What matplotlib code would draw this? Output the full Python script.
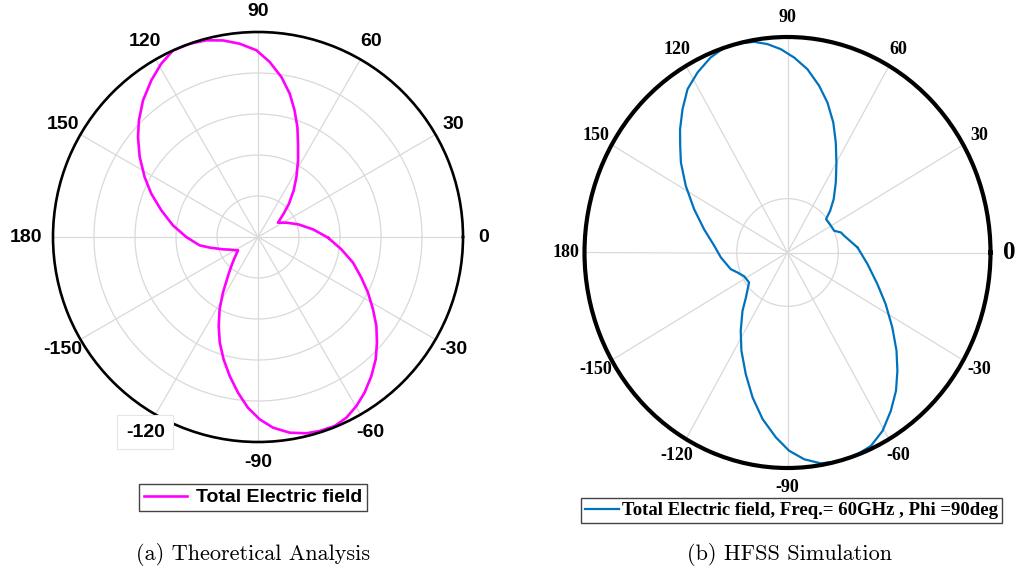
import numpy as np
import matplotlib
matplotlib.use('Agg')
import matplotlib.pyplot as plt

# angle tick labels (deg, text)
tick_deg = [0, 30, 60, 90, 120, 150, 180, 210, 240, 270, 300, 330]
tick_txt = ['0', '30', '60', '90', '120', '150', '180', '-150', '-120', '-90', '-60', '-30']

# (a) theoretical pattern, normalised magnitude
theo_deg = [359.5, 7.9, 17.6, 26.8, 35.6, 42.3, 47.1, 52.6, 57.4, 62.4, 66.8, 70.3, 73.9,
            77.5, 81.7, 86.2, 90.5, 95.4, 100.1, 104.7, 109.4, 114.5, 119.2, 124.2, 130.1,
            135.6, 140.2, 145.9, 152.1, 157.9, 164.6, 172.2, 180, 188.1, 192.4, 199.4, 204.1,
            213.7, 221.5, 227.4, 232.4, 237.8, 242, 246.2, 250.1, 254.3, 258.5, 262.7, 266.6,
            270.5, 274.5, 279.2, 283.8, 287.6, 292.1, 296.1, 300.2, 304.4, 309.2, 313.9, 318.4,
            323.1, 327.8, 333.2, 338.5, 344.9, 351.6]
theo_r = [0.341, 0.271, 0.205, 0.155, 0.120, 0.169, 0.222, 0.287, 0.348, 0.422, 0.496, 0.570,
          0.643, 0.716, 0.789, 0.856, 0.911, 0.947, 0.974, 0.992, 1.0, 1.0, 0.968, 0.925,
          0.871, 0.813, 0.762, 0.697, 0.626, 0.562, 0.489, 0.419, 0.350, 0.288, 0.241, 0.181,
          0.151, 0.117, 0.152, 0.192, 0.240, 0.321, 0.399, 0.475, 0.548, 0.620, 0.692, 0.766,
          0.834, 0.889, 0.933, 0.967, 0.986, 0.993, 0.995, 0.981, 0.954, 0.920, 0.875, 0.828,
          0.776, 0.722, 0.663, 0.601, 0.542, 0.480, 0.411]

# (b) HFSS pattern
hfss_deg = [3.8, 15.5, 19.5, 23.7, 30.2, 39.2, 42.6, 47.4, 53.8, 60, 65, 69.5, 74.2, 78.6,
            83.4, 87.9, 92, 95.8, 99.5, 104.2, 108.2, 112.7, 117.9, 123, 127.9, 132.8, 136.9,
            141.5, 148.3, 156.4, 165.3, 175.1, 184, 195.5, 200.7, 207.5, 216.3, 225.6, 230.7,
            237.6, 243.5, 250, 255.7, 261, 266.2, 270.5, 274.9, 279.5, 284.1, 289.5, 294.6,
            299.5, 304.7, 309.8, 314.6, 319.7, 326, 333.6, 341.6, 352.2]
hfss_r = [0.346, 0.290, 0.279, 0.251, 0.247, 0.245, 0.285, 0.336, 0.403, 0.482, 0.563, 0.644,
          0.723, 0.789, 0.856, 0.905, 0.944, 0.972, 0.991, 1.0, 1.0, 0.981, 0.946, 0.904,
          0.842, 0.779, 0.724, 0.671, 0.589, 0.502, 0.425, 0.362, 0.329, 0.290, 0.263, 0.240,
          0.235, 0.293, 0.350, 0.430, 0.509, 0.601, 0.695, 0.783, 0.860, 0.920, 0.963, 0.992,
          1.0, 1.0, 0.987, 0.951, 0.894, 0.835, 0.771, 0.704, 0.623, 0.540, 0.467, 0.398]

W, H = 1016, 570
fig = plt.figure(figsize=(W / 100, H / 100), dpi=100)
grid_c = '#d9d9d9'


def closed(deg, r):
    t = np.radians(list(deg) + [deg[0]])
    return t, list(r) + [r[0]]


# ---- (a) ----
ax1 = fig.add_axes([53 / W, 1 - 442 / H, 410 / W, 410 / H], projection='polar')
ax1.set_aspect('auto')
ax1.set_ylim(0, 1)
ax1.set_xticks(np.radians(tick_deg))
ax1.set_xticklabels([])
ax1.set_yticks([0.2, 0.4, 0.6, 0.8])
ax1.set_yticklabels([])
ax1.grid(True, color=grid_c, lw=0.9)
ax1.spines['polar'].set_linewidth(1.9)
t, r = closed(theo_deg, theo_r)
ax1.plot(t, r, color='#ff00ff', lw=1.9, label='Total Electric field')
for a, s in zip(tick_deg, tick_txt):
    rr = 1.13 if s == '180' else 1.10
    box = None
    if s == '-120':
        box = dict(facecolor='white', edgecolor='#e6e6e6', lw=0.8, pad=6)
    ax1.text(np.radians(a), rr, s, ha='center', va='center', fontsize=14,
             fontweight='bold', family='Liberation Sans', bbox=box, zorder=5,
             clip_on=False)
leg1 = ax1.legend(loc='center', bbox_to_anchor=(253 / W, 1 - 497.5 / H),
                  bbox_transform=fig.transFigure, fancybox=False, framealpha=1,
                  handlelength=2.2, handletextpad=0.45, borderpad=0.25,
                  prop=dict(family='Liberation Sans', weight='bold', size=14))
leg1.get_frame().set_edgecolor('#444444')
leg1.get_frame().set_linewidth(1.0)

# ---- (b) ----
ax2 = fig.add_axes([584.5 / W, 1 - 468 / H, 406 / W, 431 / H], projection='polar')
ax2.set_aspect('auto')
ax2.set_ylim(0, 1)
ax2.set_xticks(np.radians(tick_deg))
ax2.set_xticklabels([])
ax2.set_yticks([0.25])
ax2.set_yticklabels([])
ax2.grid(True, color=grid_c, lw=0.9)
ax2.spines['polar'].set_linewidth(3.0)
t, r = closed(hfss_deg, hfss_r)
ax2.plot(t, r, color='#0072bd', lw=1.6,
         label='Total Electric field, Freq.= 60GHz , Phi =90deg')
for a, s in zip(tick_deg, tick_txt):
    ax2.text(np.radians(a), 1.09, s, ha='center', va='center',
             fontsize=18 if s == '0' else 13, fontweight='bold',
             family='Liberation Serif', zorder=5, clip_on=False)
leg2 = ax2.legend(loc='center', bbox_to_anchor=(791.5 / W, 1 - 510.5 / H),
                  bbox_transform=fig.transFigure, fancybox=False, framealpha=1,
                  handlelength=1.8, handletextpad=0.2, borderpad=0.2,
                  borderaxespad=0,
                  prop=dict(family='Liberation Serif', weight='bold', size=13.5))
leg2.get_frame().set_edgecolor('#444444')
leg2.get_frame().set_linewidth(1.0)

fig.text(253 / W, 1 - 555 / H, '(a) Theoretical Analysis', ha='center', va='center',
         family='cmr10', fontsize=16)
fig.text(789.5 / W, 1 - 555 / H, '(b) HFSS Simulation', ha='center', va='center',
         family='cmr10', fontsize=16)

fig.savefig('out.png', dpi=100)
